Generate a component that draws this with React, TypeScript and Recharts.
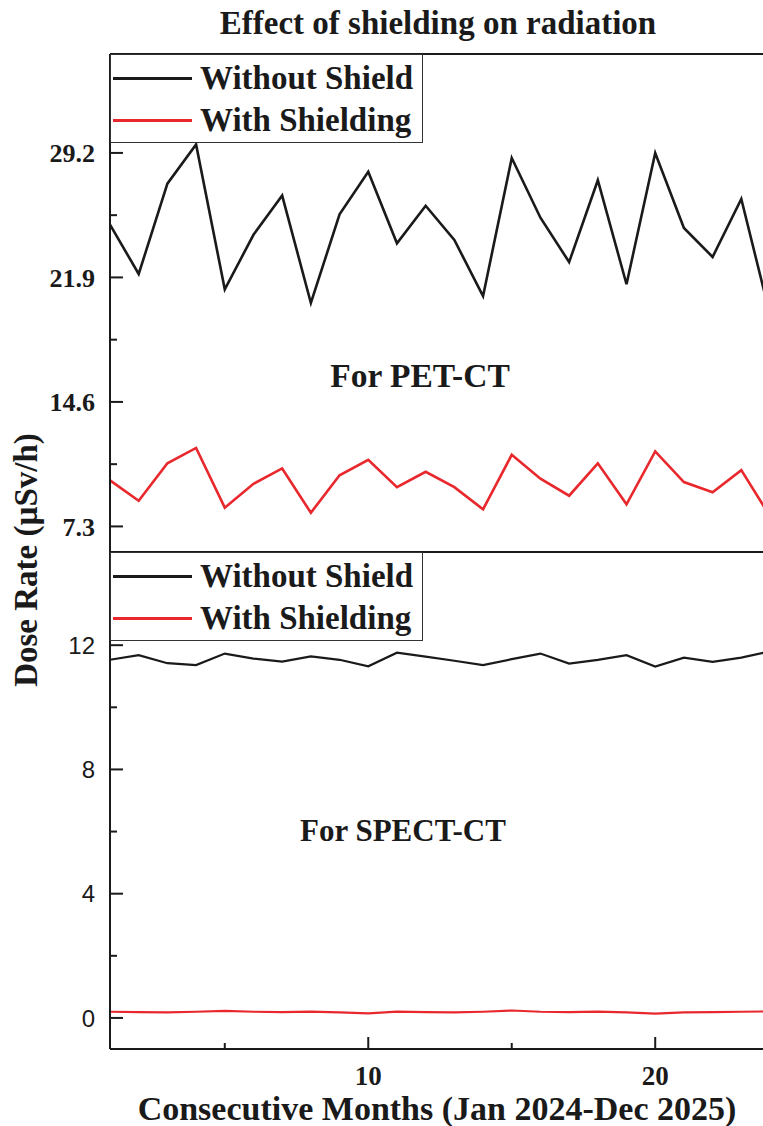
import React from 'react';
import { LineChart, Line, XAxis, YAxis, Legend, ReferenceLine } from 'recharts';

// month index 1..24 (Jan 2024 - Dec 2025)
const months = [1, 2, 3, 4, 5, 6, 7, 8, 9, 10, 11, 12, 13, 14, 15, 16, 17, 18, 19, 20, 21, 22, 23, 24];
const seriesNames = ['Without Shield', 'With Shielding'];

// PET-CT dose rates (µSv/h)
const petWithout = [25.0, 22.1, 27.4, 29.7, 21.2, 24.4, 26.7, 20.4, 25.6, 28.1, 23.9, 26.1, 24.1, 20.8, 28.9, 25.4, 22.8, 27.6, 21.5, 29.2, 24.8, 23.1, 26.5, 19.7];
const petWith = [10.0, 8.8, 11.0, 11.9, 8.4, 9.8, 10.7, 8.1, 10.3, 11.2, 9.6, 10.5, 9.6, 8.3, 11.5, 10.1, 9.1, 11.0, 8.6, 11.7, 9.9, 9.3, 10.6, 7.9];

// SPECT-CT dose rates (µSv/h)
const spectWithout = [11.53, 11.68, 11.42, 11.36, 11.73, 11.57, 11.47, 11.64, 11.53, 11.32, 11.76, 11.63, 11.5, 11.36, 11.55, 11.73, 11.41, 11.53, 11.68, 11.31, 11.6, 11.46, 11.6, 11.8];
const spectWith = [0.2, 0.19, 0.18, 0.2, 0.23, 0.2, 0.19, 0.2, 0.18, 0.15, 0.2, 0.19, 0.18, 0.2, 0.24, 0.2, 0.19, 0.2, 0.18, 0.14, 0.18, 0.19, 0.2, 0.21];

// axis ticks
const petTicks = [7.3, 10.95, 14.6, 18.25, 21.9, 25.55, 29.2, 32.85];
const petMajor = [7.3, 14.6, 21.9, 29.2];
const spectTicks = [0, 2, 4, 6, 8, 10, 12, 14];
const spectMajor = [0, 4, 8, 12];
const monthTicks = [5, 10, 15, 20];
const monthMajor = [10, 20];

const petData = months.map((m, i) => ({ month: m, without: petWithout[i], with: petWith[i] }));
const spectData = months.map((m, i) => ({ month: m, without: spectWithout[i], with: spectWith[i] }));

const SERIF = '"Liberation Serif", "Times New Roman", serif';
const SANS = '"Liberation Sans", Arial, sans-serif';
const INK = '#1a1a1a';
const RED = '#e8282d';

const PetTick = (props: any) => {
  const { x, y, payload } = props;
  const major = petMajor.includes(payload.value);
  return (
    <g>
      <line x1={x} x2={x + (major ? 13 : 7)} y1={y} y2={y} stroke={INK} strokeWidth={2} />
      {major && (
        <text x={x - 15} y={y} dy="0.35em" textAnchor="end" fontFamily={SERIF} fontWeight="bold" fontSize={26} fill={INK}>
          {payload.value}
        </text>
      )}
    </g>
  );
};

const SpectTick = (props: any) => {
  const { x, y, payload } = props;
  const major = spectMajor.includes(payload.value);
  return (
    <g>
      <line x1={x} x2={x + (major ? 13 : 7)} y1={y} y2={y} stroke={INK} strokeWidth={2} />
      {major && (
        <text x={x - 15} y={y} dy="0.36em" textAnchor="end" fontFamily={SANS} fontSize={24} fill={INK}>
          {payload.value}
        </text>
      )}
    </g>
  );
};

const MonthTick = (props: any) => {
  const { x, y, payload } = props;
  const major = monthMajor.includes(payload.value);
  return (
    <g>
      <line x1={x} x2={x} y1={y} y2={y - (major ? 12 : 6)} stroke={INK} strokeWidth={2} />
      {major && (
        <text x={x} y={y + 36} textAnchor="middle" fontFamily={SERIF} fontWeight="bold" fontSize={27} fill={INK}>
          {payload.value}
        </text>
      )}
    </g>
  );
};

const renderLegend = (props: any) => {
  const items = [...(props.payload || [])].sort(
    (a: any, b: any) => seriesNames.indexOf(a.value) - seriesNames.indexOf(b.value)
  );
  return (
    <div style={{ width: 313, height: 89, boxSizing: 'border-box', border: '1.5px solid #333', background: '#fff', paddingTop: 2 }}>
      {items.map((entry: any) => (
        <div key={entry.value} style={{ display: 'flex', alignItems: 'center', height: 42 }}>
          <div style={{ width: 79, height: 3, background: entry.color, marginLeft: 2, marginRight: 8 }} />
          <span style={{ fontFamily: SERIF, fontWeight: 'bold', fontSize: 33, color: INK, whiteSpace: 'nowrap' }}>{entry.value}</span>
        </div>
      ))}
    </div>
  );
};

export default function App() {
  return (
    <div style={{ position: 'absolute', left: 0, top: 0, width: 763, height: 1126, overflow: 'hidden', background: '#fff' }}>
      <div style={{ position: 'absolute', left: 0, top: 0 }}>
        <LineChart width={800} height={560} data={petData} margin={{ top: 54, right: 30, left: 0, bottom: 8 }}>
          <XAxis dataKey="month" type="number" domain={[1, 24]} hide />
          <YAxis
            type="number"
            domain={[5.8, 35]}
            allowDataOverflow
            ticks={petTicks}
            interval={0}
            width={110}
            tickSize={0}
            tickMargin={0}
            tickLine={false}
            axisLine={{ stroke: INK, strokeWidth: 2 }}
            tick={<PetTick />}
          />
          <ReferenceLine y={35} stroke={INK} strokeWidth={2} ifOverflow="visible" />
          <ReferenceLine y={5.8} stroke={INK} strokeWidth={2} ifOverflow="visible" />
          <Line dataKey="without" name={seriesNames[0]} stroke={INK} strokeWidth={2.6} dot={false} isAnimationActive={false} />
          <Line dataKey="with" name={seriesNames[1]} stroke={RED} strokeWidth={2.6} dot={false} isAnimationActive={false} />
          <Legend layout="vertical" align="center" verticalAlign="middle" content={renderLegend} wrapperStyle={{ top: 54, left: 110, width: 313, height: 89 }} />
        </LineChart>
      </div>
      <div style={{ position: 'absolute', left: 0, top: 540 }}>
        <LineChart width={800} height={570} data={spectData} margin={{ top: 12, right: 30, left: 0, bottom: 21 }}>
          <XAxis
            dataKey="month"
            type="number"
            domain={[1, 24]}
            ticks={monthTicks}
            interval={0}
            height={40}
            tickSize={0}
            tickMargin={0}
            tickLine={false}
            axisLine={{ stroke: INK, strokeWidth: 2 }}
            tick={<MonthTick />}
          />
          <YAxis
            type="number"
            domain={[-1, 15]}
            allowDataOverflow
            ticks={spectTicks}
            interval={0}
            width={110}
            tickSize={0}
            tickMargin={0}
            tickLine={false}
            axisLine={{ stroke: INK, strokeWidth: 2 }}
            tick={<SpectTick />}
          />
          <ReferenceLine y={15} stroke={INK} strokeWidth={2} ifOverflow="visible" />
          <Line dataKey="without" name={seriesNames[0]} stroke={INK} strokeWidth={2.2} dot={false} isAnimationActive={false} />
          <Line dataKey="with" name={seriesNames[1]} stroke={RED} strokeWidth={2.2} dot={false} isAnimationActive={false} />
          <Legend layout="vertical" align="center" verticalAlign="middle" content={renderLegend} wrapperStyle={{ top: 12, left: 110, width: 313, height: 89 }} />
        </LineChart>
      </div>
      <svg width={763} height={1126} style={{ position: 'absolute', left: 0, top: 0, pointerEvents: 'none' }}>
        <g fontFamily={SERIF} fontWeight="bold" fill={INK}>
          <text x={438} y={34} textAnchor="middle" fontSize={33}>Effect of shielding on radiation</text>
          <text x={420} y={387} textAnchor="middle" fontSize={33.5}>For PET-CT</text>
          <text x={403} y={841} textAnchor="middle" fontSize={31}>For SPECT-CT</text>
          <text transform="translate(37,560) rotate(-90)" textAnchor="middle" fontSize={33}>Dose Rate (µSv/h)</text>
          <text x={437} y={1120} textAnchor="middle" fontSize={34}>Consecutive Months (Jan 2024-Dec 2025)</text>
        </g>
      </svg>
    </div>
  );
}
